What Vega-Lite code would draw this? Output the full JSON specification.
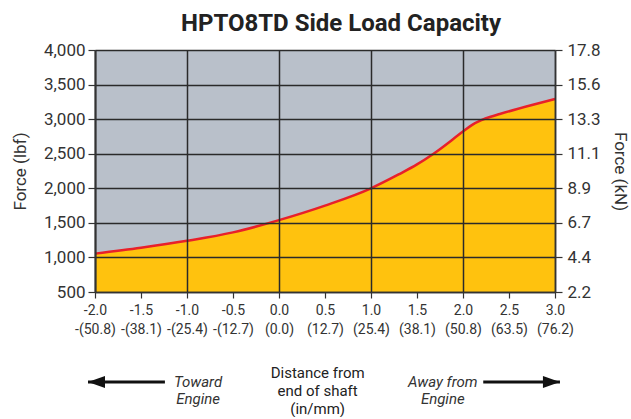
{
  "$schema": "https://vega.github.io/schema/vega-lite/v6.json",
  "padding": {"left": 11, "top": 12, "right": 5, "bottom": 0},
  "background": "white",
  "config": {
    "font": "Roboto, sans-serif",
    "view": {"stroke": null},
    "concat": {"spacing": 20}
  },
  "datasets": {
    "curve": [
      {"inch": -2.0, "lbf": 1055},
      {"inch": -1.5, "lbf": 1140},
      {"inch": -1.0, "lbf": 1240},
      {"inch": -0.5, "lbf": 1362},
      {"inch": 0.0, "lbf": 1540},
      {"inch": 0.5, "lbf": 1750},
      {"inch": 1.0, "lbf": 2000},
      {"inch": 1.3, "lbf": 2200},
      {"inch": 1.5, "lbf": 2345},
      {"inch": 1.68, "lbf": 2500},
      {"inch": 2.0, "lbf": 2820},
      {"inch": 2.1, "lbf": 2918},
      {"inch": 2.2, "lbf": 2985},
      {"inch": 2.3, "lbf": 3035},
      {"inch": 2.4, "lbf": 3075},
      {"inch": 2.75, "lbf": 3205},
      {"inch": 3.0, "lbf": 3292}
    ],
    "notes": [
      {"kind": "side", "text": "Toward\nEngine", "at": -0.88},
      {"kind": "center", "text": "Distance from\nend of shaft\n(in/mm)", "at": 0.42},
      {"kind": "side", "text": "Away from\nEngine", "at": 1.78}
    ],
    "arrows": [
      {"dir": "toward", "from": -1.24, "to": -2.076},
      {"dir": "away", "from": 2.22, "to": 3.054}
    ]
  },
  "vconcat": [
    {
      "width": 460,
      "height": 242,
      "title": {
        "text": "HPTO8TD Side Load Capacity",
        "fontSize": 24,
        "fontWeight": "bold",
        "color": "#222222",
        "anchor": "middle",
        "dx": 16,
        "offset": 5
      },
      "view": {"fill": "#B9C0CA", "stroke": null},
      "data": {"name": "curve"},
      "encoding": {
        "x": {
          "field": "inch",
          "type": "quantitative",
          "scale": {"domain": [-2, 3], "nice": false, "zero": false},
          "axis": {
            "values": [-2, -1.5, -1, -0.5, 0, 0.5, 1, 1.5, 2, 2.5, 3],
            "labelExpr": "[(datum.value < 0 ? '-' : '') + format(abs(datum.value), '.1f'), (datum.value < 0 ? '-' : '') + '(' + format(abs(datum.value) * 25.4, '.1f') + ')']",
            "labelFontSize": 14,
            "labelLineHeight": 19,
            "labelColor": "#333333",
            "labelPadding": 5,
            "labelFlush": false,
            "labelOverlap": false,
            "tickSize": 6,
            "tickColor": "#333333",
            "tickWidth": 1.2,
            "domainColor": "#333333",
            "domainWidth": 1.5,
            "grid": true,
            "gridColor": "#2a2a2a",
            "gridWidth": 1.5,
            "gridOpacity": {"condition": {"test": "datum.value % 1 !== 0", "value": 0}, "value": 1},
            "title": null,
            "zindex": 1
          }
        }
      },
      "layer": [
        {
          "mark": {"type": "area", "color": "#FFC20E", "interpolate": "monotone"},
          "encoding": {
            "y": {
              "field": "lbf",
              "type": "quantitative",
              "scale": {"domain": [500, 4000], "nice": false, "zero": false},
              "axis": {
                "orient": "left",
                "values": [500, 1000, 1500, 2000, 2500, 3000, 3500, 4000],
                "format": ",d",
                "labelFontSize": 17,
                "labelColor": "#333333",
                "labelPadding": 3,
                "labelFlush": false,
                "tickSize": 7,
                "tickColor": "#333333",
                "tickWidth": 1.2,
                "domainColor": "#333333",
                "domainWidth": 2,
                "grid": true,
                "gridColor": "#2a2a2a",
                "gridWidth": 1.5,
                "title": "Force (lbf)",
                "titleFontSize": 17,
                "titleFontWeight": "normal",
                "titleColor": "#333333",
                "titlePadding": 14,
                "zindex": 1
              }
            },
            "y2": {"datum": 500}
          }
        },
        {
          "mark": {"type": "line", "color": "#E8202A", "strokeWidth": 2.5, "interpolate": "monotone"},
          "encoding": {
            "y": {
              "field": "lbf",
              "type": "quantitative",
              "axis": {
                "orient": "right",
                "values": [500, 1000, 1500, 2000, 2500, 3000, 3500, 4000],
                "labelExpr": "format(datum.value * 0.0044482, '.1f')",
                "labelFontSize": 17,
                "labelColor": "#333333",
                "labelPadding": 5,
                "labelFlush": false,
                "tickSize": 7,
                "tickColor": "#333333",
                "tickWidth": 1.2,
                "domainColor": "#333333",
                "domainWidth": 1.5,
                "grid": false,
                "title": "Force (kN)",
                "titleFontSize": 17,
                "titleFontWeight": "normal",
                "titleColor": "#333333",
                "titlePadding": 10,
                "titleAngle": 90,
                "zindex": 1
              }
            }
          }
        }
      ],
      "resolve": {"axis": {"y": "independent"}}
    },
    {
      "width": 460,
      "height": 52,
      "layer": [
        {
          "data": {"name": "arrows"},
          "mark": {"type": "rule", "color": "#111111", "strokeWidth": 3},
          "encoding": {
            "x": {"field": "from", "type": "quantitative", "scale": {"domain": [-2, 3], "nice": false, "zero": false}, "axis": null},
            "x2": {"field": "to"},
            "y": {"datum": 0.5, "type": "quantitative", "scale": {"domain": [0, 1]}, "axis": null}
          }
        },
        {
          "data": {"name": "arrows"},
          "mark": {"type": "point", "filled": true, "color": "#111111", "opacity": 1, "size": 1156},
          "encoding": {
            "x": {"field": "to", "type": "quantitative"},
            "y": {"datum": 0.5, "type": "quantitative"},
            "shape": {
              "field": "dir",
              "type": "nominal",
              "scale": {"domain": ["toward", "away"], "range": ["M 0 0 L 1 -0.35 L 1 0.35 Z", "M 0 0 L -1 -0.35 L -1 0.35 Z"]},
              "legend": null
            }
          }
        },
        {
          "data": {"name": "notes"},
          "transform": [{"filter": "datum.kind === 'side'"}],
          "mark": {"type": "text", "lineBreak": "\n", "fontSize": 15, "fontStyle": "italic", "color": "#333333", "lineHeight": 17, "baseline": "middle", "align": "center"},
          "encoding": {
            "x": {"field": "at", "type": "quantitative"},
            "y": {"datum": 0.5, "type": "quantitative"},
            "text": {"field": "text"}
          }
        },
        {
          "data": {"name": "notes"},
          "transform": [{"filter": "datum.kind === 'center'"}],
          "mark": {"type": "text", "lineBreak": "\n", "fontSize": 15, "color": "#222222", "lineHeight": 18, "baseline": "middle", "align": "center", "dy": -9},
          "encoding": {
            "x": {"field": "at", "type": "quantitative"},
            "y": {"datum": 0.5, "type": "quantitative"},
            "text": {"field": "text"}
          }
        }
      ]
    }
  ]
}
